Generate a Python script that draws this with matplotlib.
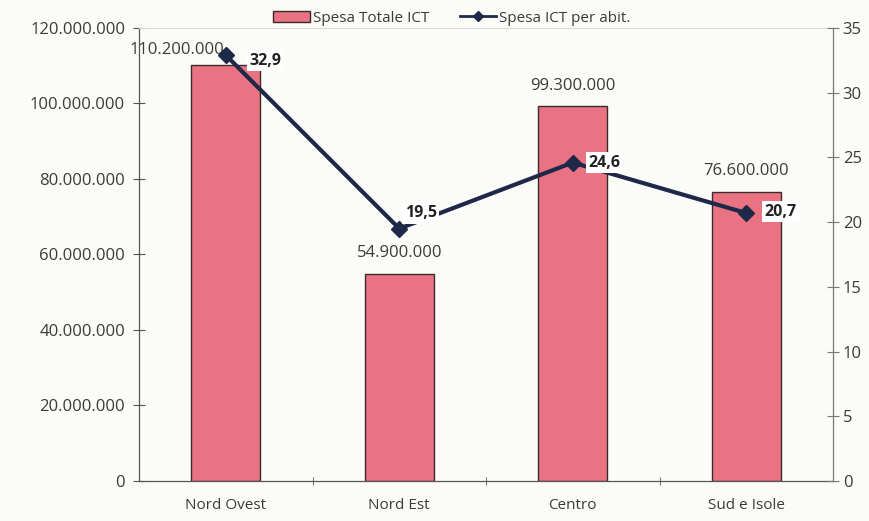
import matplotlib
matplotlib.use("Agg")
import matplotlib.pyplot as plt
from matplotlib.ticker import FuncFormatter, FixedLocator
from matplotlib.lines import Line2D
from matplotlib.patches import Patch

categories = ["Nord Ovest", "Nord Est", "Centro", "Sud e Isole"]
spesa_totale = [110200000, 54900000, 99300000, 76600000]
spesa_per_abit = [32.9, 19.5, 24.6, 20.7]

left_ticks = [0, 20000000, 40000000, 60000000, 80000000, 100000000, 120000000]
right_ticks = [0, 5, 10, 15, 20, 25, 30, 35]

plt.rcParams['font.family'] = ['Open Sans', 'DejaVu Sans']

bar_color = "#EA7383"
line_color = "#1E2848"
text_color = "#3A3A3A"
bg = "#FBFBF8"


def thousands(v, _=None):
    return f"{int(round(v)):,}".replace(",", ".")


def comma_dec(v):
    return f"{v:.1f}".replace(".", ",")


fig = plt.figure(figsize=(8.69, 5.21), dpi=100, facecolor=bg)
ax = fig.add_axes([0.160, 0.0768, 0.7986, 0.8695])
ax.set_facecolor(bg)

x = list(range(len(categories)))
bars = ax.bar(x, spesa_totale, width=0.40, color=bar_color,
              edgecolor="#3A2A2E", linewidth=1.0, zorder=2)
ax.set_xlim(-0.5, len(categories) - 0.5)
ax.set_ylim(0, 120000000)
ax.yaxis.set_major_locator(FixedLocator(left_ticks))
ax.yaxis.set_major_formatter(FuncFormatter(thousands))
ax.tick_params(axis="y", direction="inout", length=8, width=0.8,
               colors="#555555", labelcolor=text_color, labelsize=12, pad=6)

ax.set_xticks(x)
ax.set_xticklabels(categories, fontsize=11, color=text_color)
ax.set_xticks([i + 0.5 for i in x[:-1]], minor=True)
ax.tick_params(axis="x", which="major", length=0, pad=12)
ax.tick_params(axis="x", which="minor", direction="inout", length=6,
               width=0.8, colors="#777777")

for side in ("left", "bottom"):
    ax.spines[side].set_color("#555555")
    ax.spines[side].set_linewidth(0.9)
ax.spines["top"].set_color("#D8D8D8")
ax.spines["top"].set_linewidth(0.8)
ax.spines["right"].set_visible(False)

# Labels above bars
bar_offsets = [(-35, 5), (0, 9), (0, 9), (0, 9)]
for xi, v, off in zip(x, spesa_totale, bar_offsets):
    ax.annotate(thousands(v), (xi, v), xytext=off, textcoords="offset points",
                ha="center", va="bottom", fontsize=12, color=text_color,
                zorder=1)

# Secondary axis with per-capita spending
ax2 = ax.twinx()
ax2.set_ylim(0, 35)
ax2.yaxis.set_major_locator(FixedLocator(right_ticks))
ax2.tick_params(axis="y", direction="inout", length=8, width=0.8,
                colors="#777777", labelcolor=text_color, labelsize=12, pad=3)
for side in ("left", "top", "bottom"):
    ax2.spines[side].set_visible(False)
ax2.spines["right"].set_color("#777777")
ax2.spines["right"].set_linewidth(0.9)

ax2.plot(x, spesa_per_abit, color=line_color, linewidth=3, marker="D",
         markersize=8, zorder=4)

line_offsets = [(17, -4), (4, 11), (11, 0), (13, 1)]
for xi, v, off in zip(x, spesa_per_abit, line_offsets):
    ax2.annotate(comma_dec(v), (xi, v), xytext=off, textcoords="offset points",
                 ha="left", va="center", fontsize=11.5, fontweight="bold",
                 color="#222222", zorder=6,
                 bbox=dict(boxstyle="square,pad=0.15", fc="white", ec="none"))

handles = [
    Patch(facecolor=bar_color, edgecolor="#3A2A2E", linewidth=1.0),
    Line2D([0], [0], color=line_color, linewidth=2, marker="D", markersize=5),
]
fig.legend(handles, ["Spesa Totale ICT", "Spesa ICT per abit."],
           loc="center", bbox_to_anchor=(0.52, 0.965), ncol=2, frameon=False,
           fontsize=11, handlelength=2.4, handletextpad=0.2, columnspacing=2.0,
           labelcolor=text_color)

fig.savefig("out.png", dpi=100, facecolor=bg)
